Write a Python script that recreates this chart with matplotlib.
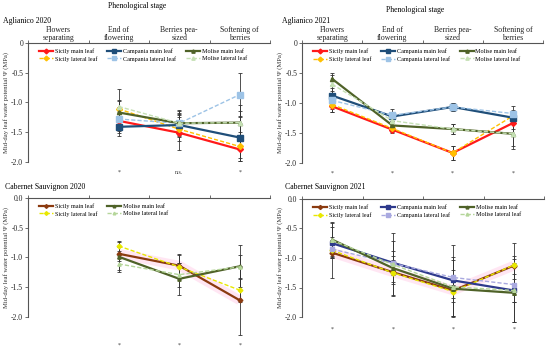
import numpy as np
import matplotlib
matplotlib.use("Agg")
import matplotlib.pyplot as plt

plt.rcParams['font.family'] = ['Liberation Serif', 'DejaVu Serif']

# ---------------- data ----------------
stages = ["Flowers\nseparating", "End of\nflowering", "Berries pea-\nsized", "Softening of\nberries"]
series_names = ["Sicily main leaf", "Sicily lateral leaf", "Campania main leaf",
                "Campania lateral leaf", "Molise main leaf", "Molise lateral leaf"]

# Aglianico 2020 (no data at flowers separating)
ag20_sicily_main = [None, -1.31, -1.51, -1.79]
ag20_sicily_lat = [None, -1.11, -1.45, -1.74]
ag20_camp_main = [None, -1.41, -1.38, -1.59]
ag20_camp_lat = [None, -1.28, -1.35, -0.87]
ag20_mol_main = [None, -1.17, -1.35, -1.34]
ag20_mol_lat = [None, -1.07, -1.35, -1.34]
ag20_err = [[None, 0.20, 0.29, 0.20], [None, 0.15, 0.20, 0.25], [None, 0.15, 0.20, 0.35],
            [None, 0.20, 0.15, 0.36], [None, 0.20, 0.22, 0.30], [None, 0.30, 0.20, 0.20]]
ag20_sig = ["", "*", "n.s.", "*"]

# Aglianico 2021
ag21_sicily_main = [-1.06, -1.45, -1.84, -1.34]
ag21_sicily_lat = [-1.03, -1.43, -1.84, -1.22]
ag21_camp_main = [-0.88, -1.23, -1.07, -1.25]
ag21_camp_lat = [-0.96, -1.21, -1.07, -1.18]
ag21_mol_main = [-0.60, -1.38, -1.44, -1.52]
ag21_mol_lat = [-0.69, -1.30, -1.44, -1.52]
ag21_err = [[0.10, 0.06, 0.12, 0.10], [0.12, 0.06, 0.12, 0.10], [0.12, 0.08, 0.06, 0.10],
            [0.15, 0.10, 0.06, 0.12], [0.10, 0.10, 0.08, 0.20], [0.15, 0.12, 0.08, 0.25]]
ag21_sig = ["*", "*", "*", "*"]

# Cabernet Sauvignon 2020 (Sicily and Molise only)
cs20_sicily_main = [None, -0.94, -1.14, -1.72]
cs20_sicily_lat = [None, -0.81, -1.16, -1.55]
cs20_mol_main = [None, -0.99, -1.36, -1.15]
cs20_mol_lat = [None, -1.11, -1.29, -1.16]
cs20_err = [[None, 0.12, 0.20, 0.58], [None, 0.08, 0.20, 0.20],
            [None, 0.25, 0.27, 0.35], [None, 0.10, 0.20, 0.20]]
cs20_sig = ["", "*", "*", "*"]

# Cabernet Sauvignon 2021
cs21_sicily_main = [-0.91, -1.24, -1.55, -1.13]
cs21_sicily_lat = [-0.87, -1.25, -1.57, -1.12]
cs21_camp_main = [-0.75, -1.08, -1.38, -1.55]
cs21_camp_lat = [-0.85, -1.09, -1.33, -1.45]
cs21_mol_main = [-0.69, -1.17, -1.52, -1.59]
cs21_mol_lat = [-0.70, -1.11, -1.49, -1.55]
cs21_err = [[0.43, 0.20, 0.20, 0.38], [0.10, 0.15, 0.10, 0.15], [0.10, 0.20, 0.60, 0.20],
            [0.15, 0.12, 0.12, 0.30], [0.30, 0.45, 0.48, 0.50], [0.30, 0.53, 0.50, 0.53]]
cs21_sig = ["*", "*", "*", "*"]

ylabel = "Mid-day leaf water potential \u03a8 (MPa)"

# ---------------- styles ----------------
top_colors = {"Sicily main leaf": "#ff1a1a", "Sicily lateral leaf": "#ffc000",
              "Campania main leaf": "#1f4e79", "Campania lateral leaf": "#9dc3e6",
              "Molise main leaf": "#4f6228", "Molise lateral leaf": "#c5e0b4"}
bot_colors = {"Sicily main leaf": "#8b3a0f", "Sicily lateral leaf": "#e8e800",
              "Campania main leaf": "#2e3a8c", "Campania lateral leaf": "#a9a9e0",
              "Molise main leaf": "#4f6228", "Molise lateral leaf": "#b5d69a"}
markers = {"Sicily": "D", "Campania": "s", "Molise": "^"}

W, H = 550, 353
fig = plt.figure(figsize=(W / 100, H / 100), dpi=100)


def add_ax(L, R, T, B):
    return fig.add_axes([L / W, (H - B) / H, (R - L) / W, (B - T) / H])


def tonum(v):
    return np.array([np.nan if a is None else a for a in v], dtype=float)


def draw(ax, names, vals, errs, colors, ncol, sig, sig_y, ticklabels, msize, glow=False):
    x = np.arange(1, 5)
    handles = []
    for name, v, e in zip(names, vals, errs):
        v = tonum(v)
        e = tonum(e)
        region = name.split()[0]
        lateral = "lateral" in name
        c = colors[name]
        if glow and name == "Sicily main leaf":
            ax.plot(x, v, color="#ffd6ec", lw=7, alpha=0.6, solid_capstyle="butt",
                    zorder=1, clip_on=False)
        ax.errorbar(x, v, yerr=e, fmt="none", ecolor="#333333", elinewidth=0.6,
                    capsize=1.2, capthick=0.6, clip_on=False, zorder=2)
        h, = ax.plot(x, v, color=c, lw=1.0 if lateral else 1.6,
                     ls=(0, (3, 1.5)) if lateral else "-",
                     marker=markers[region], ms=msize * (1.3 if region == "Campania" else 1.0),
                     mec=c, mfc=c, label=name, zorder=3, clip_on=False)
        handles.append(h)
    ax.set_xlim(0.5, 4.5)
    ax.set_ylim(-2.0, 0)
    ax.set_yticks([0, -0.5, -1.0, -1.5, -2.0])
    ax.set_yticklabels(ticklabels)
    ax.xaxis.tick_top()
    ax.set_xticks([0.5, 1.5, 2.5, 3.5, 4.5])
    ax.set_xticklabels([])
    ax.tick_params(axis="x", direction="out", length=2.5, width=0.6, colors="#555555")
    ax.tick_params(axis="y", direction="out", length=2, width=0.6, colors="#555555",
                   labelsize=5.5, labelcolor="#222222", pad=1.5)
    for s in ["bottom", "right"]:
        ax.spines[s].set_visible(False)
    for s in ["top", "left"]:
        ax.spines[s].set_color("#555555")
        ax.spines[s].set_linewidth(0.8)
    ax.set_ylabel(ylabel, fontsize=4.8, labelpad=1.5, color="#333333")
    ax.legend(handles=handles, ncol=ncol, loc="upper left", bbox_to_anchor=(0.03, 0.985),
              frameon=False, fontsize=4.4, handlelength=2.3, handletextpad=0.3,
              columnspacing=1.6, labelspacing=0.35, markerscale=0.8, borderaxespad=0.2)
    for xi, s in zip(x, sig):
        if s:
            ax.text(xi, sig_y, s, ha="center", va="center", fontsize=4.2, clip_on=False,
                    color="#333333")


# Top-left: Aglianico 2020
ax1 = add_ax(28, 270, 42.7, 162)
draw(ax1, series_names,
     [ag20_sicily_main, ag20_sicily_lat, ag20_camp_main, ag20_camp_lat, ag20_mol_main, ag20_mol_lat],
     ag20_err, top_colors, 3, ag20_sig, -2.17, ["0", "-0.5", "-1.0", "-1.5", "-2.0"], 3.0)

# Top-right: Aglianico 2021
ax2 = add_ax(302, 543, 43, 162.5)
draw(ax2, series_names,
     [ag21_sicily_main, ag21_sicily_lat, ag21_camp_main, ag21_camp_lat, ag21_mol_main, ag21_mol_lat],
     ag21_err, top_colors, 3, ag21_sig, -2.17, ["0", "-0.5", "-1.0", "-1.5", "-2.0"], 3.0)

# Bottom-left: Cabernet Sauvignon 2020
ax3 = add_ax(28, 270, 197.7, 317)
cs20_names = ["Sicily main leaf", "Sicily lateral leaf", "Molise main leaf", "Molise lateral leaf"]
draw(ax3, cs20_names, [cs20_sicily_main, cs20_sicily_lat, cs20_mol_main, cs20_mol_lat],
     cs20_err, bot_colors, 2, cs20_sig, -2.48, ["0.0", "-0.5", "-1.0", "-1.5", "-2.0"], 2.4,
     glow=True)

# Bottom-right: Cabernet Sauvignon 2021
ax4 = add_ax(302, 544, 199, 317)
draw(ax4, series_names,
     [cs21_sicily_main, cs21_sicily_lat, cs21_camp_main, cs21_camp_lat, cs21_mol_main, cs21_mol_lat],
     cs21_err, bot_colors, 3, cs21_sig, -2.2, ["0.0", "-0.5", "-1.0", "-1.5", "-2.0"], 2.6,
     glow=True)

# Stage labels above the top panels
for ax in (ax1, ax2):
    for xi, s in zip(range(1, 5), stages):
        ax.text(xi, 1.005, s, transform=ax.get_xaxis_transform(), ha="center", va="bottom",
                fontsize=5.6, linespacing=1.05, color="#222222")

fig.text(137 / W, 1 - 6 / H, "Phenological stage", ha="center", va="center", fontsize=5.6)
fig.text(415 / W, 1 - 10 / H, "Phenological stage", ha="center", va="center", fontsize=5.6)
fig.text(3 / W, 1 - 21 / H, "Aglianico 2020", ha="left", va="center", fontsize=5.6)
fig.text(282 / W, 1 - 21 / H, "Aglianico 2021", ha="left", va="center", fontsize=5.6)
fig.text(5 / W, 1 - 187 / H, "Cabernet Sauvignon 2020", ha="left", va="center", fontsize=5.6)
fig.text(285 / W, 1 - 187 / H, "Cabernet Sauvignon 2021", ha="left", va="center", fontsize=5.6)

fig.savefig("out.png", dpi=100)
